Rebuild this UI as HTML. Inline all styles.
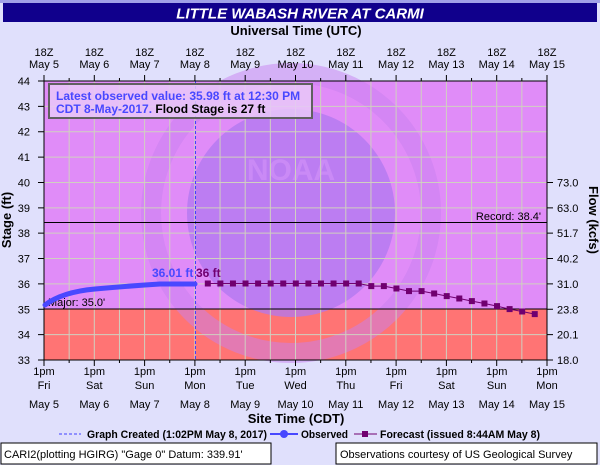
<!DOCTYPE html>
<html><head><style>body{margin:0;background:#e0e0fc;}svg{display:block}text{font-family:"Liberation Sans",sans-serif}</style></head><body>
<svg id="s" width="600" height="465" xmlns="http://www.w3.org/2000/svg">
<rect width="600" height="465" fill="#e0e0fc"/>
<rect x="0" y="0" width="600" height="3" fill="#a0a0e8"/>
<rect x="3" y="3" width="594" height="19" fill="#10008c"/>
<text x="300" y="18.5" font-size="15" font-weight="bold" font-style="italic" fill="#fff" text-anchor="middle">LITTLE WABASH RIVER AT CARMI</text>
<text x="296" y="35" font-size="13" font-weight="bold" text-anchor="middle">Universal Time (UTC)</text>
<rect x="44" y="81" width="503" height="228" fill="#e08cf8"/>
<rect x="44" y="309" width="503" height="51" fill="#ff7474"/>
<circle cx="291" cy="213" r="140" fill="none" stroke="#c880f0" stroke-width="20" opacity="0.5"/>
<circle cx="291" cy="213" r="104" fill="#b078f0" opacity="0.75"/>
<text x="291" y="180" font-size="30" font-weight="bold" fill="#d090f8" text-anchor="middle" opacity="0.7">NOAA</text>
<g id="grid" stroke="#d0d0c0" stroke-width="1"></g>
<line x1="195.5" y1="81" x2="195.5" y2="360" stroke="#4040ff" stroke-dasharray="3,2"/>
<line x1="44" y1="309" x2="547" y2="309" stroke="#000"/>
<line x1="44" y1="222.5" x2="547" y2="222.5" stroke="#000"/>
<text x="541" y="220" font-size="11" text-anchor="end">Record: 38.4'</text>
<text x="48" y="306" font-size="11">Major: 35.0'</text>
<rect x="44" y="81" width="503" height="279" fill="none" stroke="#000"/>
<path d="M45 305 Q62 292 95 289 T160 284 L195 284" fill="none" stroke="#4848ff" stroke-width="5" stroke-linecap="round"/>
<text x="152" y="277" font-size="12" font-weight="bold" fill="#4848ff">36.01 ft</text>
<text x="196" y="277" font-size="12" font-weight="bold" fill="#700070">36 ft</text>
<g id="fc"></g>
<rect x="49" y="84" width="263" height="34" fill="#e8c8f8" fill-opacity="0.85" stroke="#606060" stroke-width="2"/>
<text x="56" y="100" font-size="12" font-weight="bold" fill="#4848ff">Latest observed value: 35.98 ft at 12:30 PM</text>
<text x="56" y="113" font-size="12" font-weight="bold" fill="#4848ff">CDT 8-May-2017. <tspan fill="#000">Flood Stage is 27 ft</tspan></text>
<g id="tk" stroke="#000"></g>
<g id="lbl" font-size="11"></g>
<text transform="translate(11,220) rotate(-90)" font-size="13" font-weight="bold" text-anchor="middle">Stage (ft)</text>
<text transform="translate(589,220) rotate(90)" font-size="13" font-weight="bold" text-anchor="middle">Flow (kcfs)</text>
<text x="296" y="423" font-size="13" font-weight="bold" text-anchor="middle">Site Time (CDT)</text>
<line x1="59" y1="434" x2="81" y2="434" stroke="#4040ff" stroke-dasharray="3,2"/>
<text x="87" y="438" font-size="11" font-weight="bold" textLength="180" lengthAdjust="spacingAndGlyphs">Graph Created (1:02PM May 8, 2017)</text>
<line x1="270" y1="434" x2="298" y2="434" stroke="#4848ff" stroke-width="2"/>
<circle cx="284" cy="434" r="4" fill="#4848ff"/>
<text x="301" y="438" font-size="11" font-weight="bold" textLength="47" lengthAdjust="spacingAndGlyphs">Observed</text>
<line x1="354" y1="434" x2="377" y2="434" stroke="#700070"/>
<rect x="362" y="431" width="6" height="6" fill="#700070"/>
<text x="380" y="438" font-size="11" font-weight="bold" textLength="160" lengthAdjust="spacingAndGlyphs">Forecast (issued 8:44AM May 8)</text>
<rect x="1" y="443" width="270" height="21" fill="#fff" stroke="#000"/>
<text x="4" y="458" font-size="11">CARI2(plotting HGIRG) "Gage 0" Datum: 339.91'</text>
<rect x="336" y="443" width="261" height="21" fill="#fff" stroke="#000"/>
<text x="340" y="458" font-size="11">Observations courtesy of US Geological Survey</text>
</svg>
<script>
var NS="http://www.w3.org/2000/svg";
function el(p,t,a,txt){var e=document.createElementNS(NS,t);for(var k in a)e.setAttribute(k,a[k]);if(txt!=null)e.textContent=txt;document.getElementById(p).appendChild(e);return e;}
var X0=44,DX=50.3,Y=function(v){return 81+(44-v)*25.364;};
var g="";for(var i=1;i<20;i++){var x=X0+i*DX/2;g+="M"+x+" 81V360";}
for(var v=34;v<44;v++){if(v==35)continue;g+="M44 "+Y(v)+"H547";}
el("grid","path",{d:g});
var t="";for(var i=0;i<=20;i++){var x=X0+i*DX/2,L=i%2?3:6;t+="M"+x+" "+(81-L)+"V81M"+x+" 360V"+(360+L);}
for(var v=33;v<=44;v++)t+="M38 "+Y(v)+"H44";
for(var v=33;v<=40;v++)t+="M547 "+Y(v)+"H553";
el("tk","path",{d:t});
var days=["Fri","Sat","Sun","Mon","Tue","Wed","Thu","Fri","Sat","Sun","Mon"];
for(var i=0;i<=10;i++){var x=X0+i*DX;
el("lbl","text",{x:x,y:56,"text-anchor":"middle"},"18Z");
el("lbl","text",{x:x,y:68,"text-anchor":"middle"},"May "+(i+5));
el("lbl","text",{x:x,y:375,"text-anchor":"middle"},"1pm");
el("lbl","text",{x:x,y:389,"text-anchor":"middle"},days[i]);
el("lbl","text",{x:x,y:408,"text-anchor":"middle"},"May "+(i+5));}
for(var v=33;v<=44;v++)el("lbl","text",{x:30,y:Y(v)+4,"text-anchor":"end"},String(v));
var fl=["18.0","20.1","23.8","31.0","40.2","51.7","63.0","73.0"];
for(var j=0;j<8;j++)el("lbl","text",{x:557,y:Y(33+j)+4},fl[j]);
var fy=[0,0,0,0,0,0,0,0,0,0,0,0,0,2.6,2.6,5,7.6,7.6,10,12.6,15,17.6,20,22.6,25.6,28,30.6];
var pts=[];for(var i=0;i<27;i++){var x=207.8+i*12.575,y=283.5+fy[i];pts.push(x+","+y);}
el("fc","polyline",{points:pts.join(" "),fill:"none",stroke:"#700070"});
for(var i=0;i<27;i++){var x=207.8+i*12.575,y=283.5+fy[i];el("fc","rect",{x:x-3,y:y-3,width:6,height:6,fill:"#700070"});}
</script>
</body></html>
